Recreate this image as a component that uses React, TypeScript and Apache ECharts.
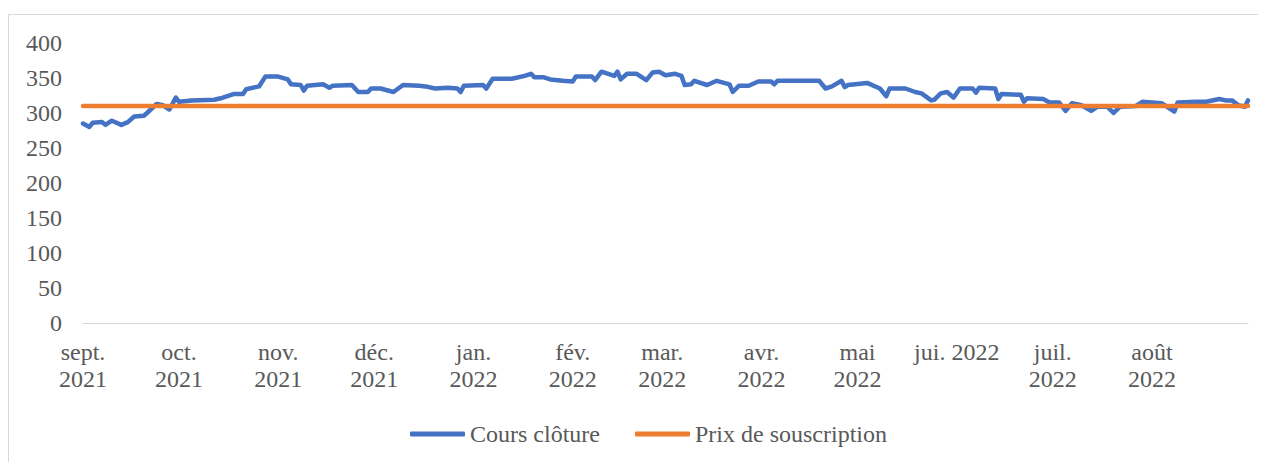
import { useEffect, useRef } from 'react';
import * as echarts from 'echarts';

const monthKeys = ['2021-09', '2021-10', '2021-11', '2021-12', '2022-01', '2022-02', '2022-03', '2022-04', '2022-05', '2022-06', '2022-07', '2022-08'];
const monthLabels = ['sept.\n2021', 'oct.\n2021', 'nov.\n2021', 'déc.\n2021', 'jan.\n2022', 'fév.\n2022', 'mar.\n2022', 'avr.\n2022', 'mai\n2022', 'jui. 2022', 'juil.\n2022', 'août\n2022'];

const closeDates = [
  '2021-09-01', '2021-09-03', '2021-09-04', '2021-09-07', '2021-09-08', '2021-09-10', '2021-09-13', '2021-09-15', '2021-09-17', '2021-09-20',
  '2021-09-21', '2021-09-24', '2021-09-26', '2021-09-28', '2021-09-30', '2021-10-01', '2021-10-05', '2021-10-12', '2021-10-14', '2021-10-18',
  '2021-10-21', '2021-10-22', '2021-10-26', '2021-10-28', '2021-11-01', '2021-11-04', '2021-11-05', '2021-11-08', '2021-11-09', '2021-11-10',
  '2021-11-15', '2021-11-17', '2021-11-18', '2021-11-24', '2021-11-26', '2021-11-29', '2021-11-30', '2021-12-03', '2021-12-07', '2021-12-10',
  '2021-12-15', '2021-12-17', '2021-12-20', '2021-12-24', '2021-12-27', '2021-12-28', '2021-12-29', '2022-01-04', '2022-01-05', '2022-01-07',
  '2022-01-13', '2022-01-17', '2022-01-19', '2022-01-20', '2022-01-23', '2022-01-25', '2022-01-29', '2022-02-01', '2022-02-02', '2022-02-07',
  '2022-02-08', '2022-02-10', '2022-02-14', '2022-02-15', '2022-02-16', '2022-02-18', '2022-02-21', '2022-02-24', '2022-02-26', '2022-02-28',
  '2022-03-02', '2022-03-05', '2022-03-07', '2022-03-08', '2022-03-10', '2022-03-11', '2022-03-15', '2022-03-18', '2022-03-22', '2022-03-23',
  '2022-03-25', '2022-03-28', '2022-03-31', '2022-04-04', '2022-04-05', '2022-04-06', '2022-04-19', '2022-04-21', '2022-04-23', '2022-04-26',
  '2022-04-27', '2022-04-28', '2022-05-04', '2022-05-08', '2022-05-10', '2022-05-11', '2022-05-16', '2022-05-19', '2022-05-21', '2022-05-24',
  '2022-05-25', '2022-05-27', '2022-05-29', '2022-05-31', '2022-06-02', '2022-06-06', '2022-06-07', '2022-06-08', '2022-06-13', '2022-06-14',
  '2022-06-15', '2022-06-21', '2022-06-22', '2022-06-23', '2022-06-28', '2022-06-30', '2022-07-03', '2022-07-05', '2022-07-07', '2022-07-10',
  '2022-07-13', '2022-07-15', '2022-07-18', '2022-07-20', '2022-07-22', '2022-07-27', '2022-07-29', '2022-08-04', '2022-08-08', '2022-08-09',
  '2022-08-15', '2022-08-18', '2022-08-22', '2022-08-24', '2022-08-26', '2022-08-28', '2022-08-30', '2022-08-31',
];
const closeValues = [
  285, 280, 286, 287, 283, 289, 283, 287, 295, 296,
  300, 313, 311, 305, 322, 316, 318, 319, 321, 327,
  327, 334, 338, 352, 352, 348, 341, 340, 332, 339,
  341, 336, 339, 340, 330, 330, 335, 335, 330, 340,
  339, 338, 335, 336, 335, 330, 339, 340, 335, 349,
  349, 353, 356, 351, 351, 348, 346, 345, 352, 352,
  347, 359, 353, 359, 348, 356, 356, 347, 358, 359,
  354, 356, 353, 340, 341, 346, 340, 346, 341, 330,
  339, 339, 345, 345, 341, 346, 346, 335, 338, 346,
  337, 340, 343, 335, 324, 335, 335, 330, 328, 318,
  319, 328, 330, 322, 335, 335, 329, 336, 335, 320,
  327, 326, 316, 321, 320, 315, 315, 303, 314, 311,
  303, 309, 309, 300, 309, 310, 316, 314, 302, 315,
  316, 316, 320, 318, 318, 311, 309, 318,
];
const subscriptionPrice = 310;

const seriesNames = ['Cours clôture', 'Prix de souscription'];
const seriesColors = ['#4472C4', '#ED7D31'];

export default function App() {
  const ref = useRef<HTMLDivElement>(null);
  useEffect(() => {
    if (!ref.current) return;
    const chart = echarts.init(ref.current, null, { renderer: 'svg' });
    const days: string[] = [];
    for (let i = 0; i < 365; i++) {
      const d = new Date(Date.UTC(2021, 8, 1 + i));
      days.push(d.toISOString().slice(0, 10));
    }
    const valueByDate = new Map<string, number>();
    closeDates.forEach((d, i) => valueByDate.set(d, closeValues[i]));
    const closeSeries = days.map((d) => (valueByDate.has(d) ? valueByDate.get(d)! : null));
    const subSeries = days.map(() => subscriptionPrice);
    const font = '"Liberation Serif", "Times New Roman", "DejaVu Serif", serif';
    const textColor = '#595959';
    const fs = 24;

    chart.setOption({
      animation: false,
      textStyle: { fontFamily: font },
      graphic: [
        {
          type: 'rect',
          shape: { x: 0.5, y: 6.5, width: 1400, height: 600 },
          style: { fill: 'none', stroke: '#d9d9d9', lineWidth: 1 },
          silent: true,
        },
      ],
      grid: { left: 75, right: 18, top: 35, bottom: 139, containLabel: false },
      legend: {
        top: 409,
        left: 397,
        itemWidth: 55,
        itemHeight: 5,
        itemGap: 35,
        icon: 'roundRect',
        textStyle: { fontFamily: font, fontSize: fs, color: textColor },
        data: seriesNames,
      },
      xAxis: {
        type: 'category',
        data: days,
        boundaryGap: false,
        axisLine: { lineStyle: { color: '#d9d9d9', width: 1 } },
        axisTick: { show: false },
        splitLine: { show: false },
        axisLabel: {
          interval: (_idx: number, value: string) => value.endsWith('-01'),
          formatter: (value: string) => {
            const k = monthKeys.indexOf(value.slice(0, 7));
            return k >= 0 ? monthLabels[k] : '';
          },
          fontFamily: font,
          fontSize: fs,
          color: textColor,
          lineHeight: 27,
          margin: 15,
        },
      },
      yAxis: {
        type: 'value',
        min: 0,
        max: 400,
        interval: 50,
        axisLine: { show: false },
        axisTick: { show: false },
        splitLine: { show: false },
        axisLabel: { fontFamily: font, fontSize: fs, color: textColor, margin: 21 },
      },
      series: [
        {
          name: seriesNames[0],
          type: 'line',
          data: closeSeries,
          connectNulls: true,
          showSymbol: false,
          symbol: 'none',
          color: seriesColors[0],
          lineStyle: { width: 4.5, color: seriesColors[0], cap: 'round', join: 'round' },
        },
        {
          name: seriesNames[1],
          type: 'line',
          data: subSeries,
          showSymbol: false,
          symbol: 'none',
          color: seriesColors[1],
          lineStyle: { width: 4.5, color: seriesColors[1], cap: 'round', join: 'round' },
        },
      ],
    });
    return () => chart.dispose();
  }, []);
  return <div ref={ref} style={{ width: 1258, height: 454 }} />;
}
